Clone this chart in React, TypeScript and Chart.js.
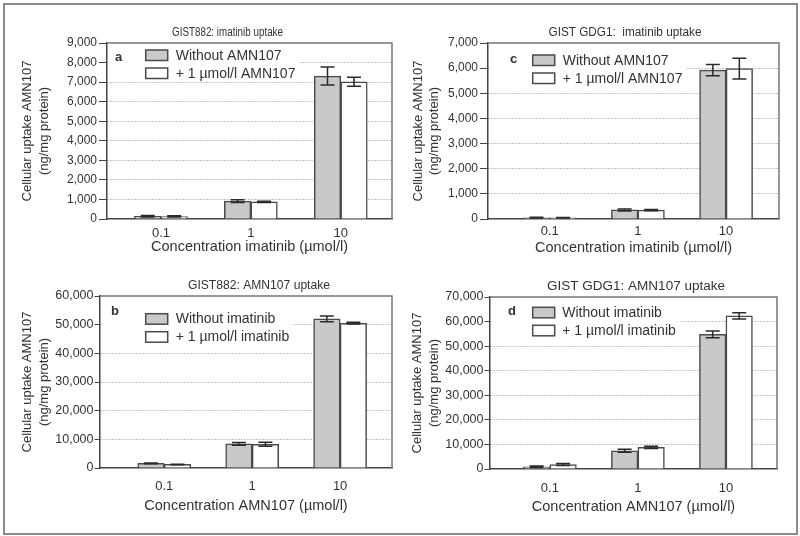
import React, { useEffect, useRef } from "react";
import { Chart, registerables } from "chart.js";

Chart.register(...registerables);

const FONT = '"Liberation Sans", Arial, Helvetica, sans-serif';
const TEXT = "#333333";

// ---------- data ----------
const categories = ["0.1", "1", "10"];

// Panel a: GIST882 imatinib uptake
const aWithout = [140, 910, 7310];
const aWithoutErr = [40, 70, 460];
const aWith = [130, 880, 7020];
const aWithErr = [30, 30, 230];

// Panel c: GIST GDG1 imatinib uptake
const cWithout = [50, 360, 5920];
const cWithoutErr = [15, 40, 220];
const cWith = [45, 350, 5980];
const cWithErr = [10, 25, 410];

// Panel b: GIST882 AMN107 uptake
const bWithout = [1590, 8400, 52000];
const bWithoutErr = [150, 500, 1000];
const bWith = [1240, 8300, 50500];
const bWithErr = [100, 700, 300];

// Panel d: GIST GDG1 AMN107 uptake
const dWithout = [900, 7400, 54800];
const dWithoutErr = [300, 600, 1400];
const dWith = [1800, 8800, 62300];
const dWithErr = [400, 500, 1300];

const legendAmn = ["Without AMN107", "+ 1 \u00b5mol/l AMN107"];
const legendIma = ["Without imatinib", "+ 1 \u00b5mol/l imatinib"];
const yTitle = ["Cellular uptake AMN107", "(ng/mg protein)"];

type Panel = {
  key: string;
  title: string;
  titleWidth: number;
  titleX: number;
  titleY: number;
  letter: string;
  legend: string[];
  xTitle: string;
  without: number[];
  withoutErr: number[];
  withV: number[];
  withErr: number[];
  yMax: number;
  yStep: number;
  left: number;
  top: number;
  yWidth: number;
  padRight: number;
  padTop: number;
  xHeight: number;
  xMin: number;
  xMax: number;
  yTitlePad: number;
  xTitlePad: number;
  xTickPad: number;
  yTickSize: number;
  yTickLen: number;
  yTickPad: number;
  letterX: number;
  letterY: number;
  swX: number;
  swY: number;
  txtX: number;
};

const panels: Panel[] = [
  {
    key: "a", title: "GIST882: imatinib uptake", titleWidth: 111, titleX: 227.5, titleY: 32.7,
    letter: "a", legend: legendAmn, xTitle: "Concentration imatinib (\u00b5mol/l)",
    without: aWithout, withoutErr: aWithoutErr, withV: aWith, withErr: aWithErr,
    yMax: 9000, yStep: 1000, left: 0, top: 0,
    yWidth: 107, padRight: 8, padTop: 43, xHeight: 49, xMin: -0.6, xMax: 2.57,
    yTitlePad: 19.3, xTitlePad: 12.6, xTickPad: 6.5, yTickSize: 12, yTickLen: 8, yTickPad: 2,
    letterX: 8, letterY: 14, swX: 38.7, swY: 7, txtX: 68.7,
  },
  {
    key: "c", title: "GIST GDG1:  imatinib uptake", titleWidth: 153, titleX: 225, titleY: 32.7,
    letter: "c", legend: legendAmn, xTitle: "Concentration imatinib (\u00b5mol/l)",
    without: cWithout, withoutErr: cWithoutErr, withV: cWith, withErr: cWithErr,
    yMax: 7000, yStep: 1000, left: 400, top: 0,
    yWidth: 88, padRight: 21, padTop: 43, xHeight: 49, xMin: -0.7, xMax: 2.6,
    yTitlePad: 9.6, xTitlePad: 11, xTickPad: 4.9, yTickSize: 12, yTickLen: 8, yTickPad: 2,
    letterX: 22, letterY: 16.3, swX: 44.7, swY: 12, txtX: 74.7,
  },
  {
    key: "b", title: "GIST882: AMN107 uptake", titleWidth: 142, titleX: 259, titleY: 17.3,
    letter: "b", legend: legendIma, xTitle: "Concentration AMN107 (\u00b5mol/l)",
    without: bWithout, withoutErr: bWithoutErr, withV: bWith, withErr: bWithErr,
    yMax: 60000, yStep: 10000, left: 0, top: 268,
    yWidth: 100, padRight: 8, padTop: 28, xHeight: 68, xMin: -0.73, xMax: 2.59,
    yTitlePad: 18.9, xTitlePad: 21, xTickPad: 10.5, yTickSize: 12.5, yTickLen: 5.5, yTickPad: 1,
    letterX: 11, letterY: 15.3, swX: 45.7, swY: 17.7, txtX: 75.7,
  },
  {
    key: "d", title: "GIST GDG1: AMN107 uptake", titleWidth: 178, titleX: 236, titleY: 18.3,
    letter: "d", legend: legendIma, xTitle: "Concentration AMN107 (\u00b5mol/l)",
    without: dWithout, withoutErr: dWithoutErr, withV: dWith, withErr: dWithErr,
    yMax: 70000, yStep: 10000, left: 400, top: 268,
    yWidth: 90, padRight: 23, padTop: 29, xHeight: 67, xMin: -0.68, xMax: 2.58,
    yTitlePad: 9.3, xTitlePad: 20.3, xTickPad: 11.2, yTickSize: 12.5, yTickLen: 5.5, yTickPad: 1,
    letterX: 18, letterY: 14.3, swX: 42.7, swY: 10.3, txtX: 72.3,
  },
];

const GREY = "#c9c9c9";
const WHITE = "#ffffff";
const EDGE = "#4a4a4a";
const AXIS = "#444444";
const FRAME = "#777777";

function PanelChart({ p }: { p: Panel }) {
  const ref = useRef<HTMLCanvasElement | null>(null);

  useEffect(() => {
    if (!ref.current) return;
    const errs = [p.withoutErr, p.withErr];
    const fills = [GREY, WHITE];

    const panelPlugin = {
      id: "panelDeco_" + p.key,
      beforeDatasetsDraw(chart: any) {
        const { ctx, chartArea: ca } = chart;
        ctx.save();
        // frame top & right
        ctx.strokeStyle = FRAME;
        ctx.lineWidth = 1.5;
        ctx.beginPath();
        ctx.moveTo(ca.left, ca.top);
        ctx.lineTo(ca.right, ca.top);
        ctx.lineTo(ca.right, ca.bottom);
        ctx.stroke();
        // legend background
        ctx.font = `14px ${FONT}`;
        const tw = Math.max(...p.legend.map((l) => ctx.measureText(l).width));
        const swW = 22;
        const swH = 10.5;
        const gap = 18;
        const bx = ca.left + 1.5;
        const by = ca.top + 1.5;
        const bw = ca.left + p.txtX + tw + 4 - bx;
        const bh = ca.top + p.swY + gap + swH + 2 - by;
        ctx.fillStyle = "#ffffff";
        ctx.fillRect(bx, by, bw, bh);
        // letter
        ctx.fillStyle = TEXT;
        ctx.textAlign = "left";
        ctx.textBaseline = "middle";
        ctx.font = `bold 13px ${FONT}`;
        ctx.fillText(p.letter, ca.left + p.letterX, ca.top + p.letterY);
        // entries
        ctx.font = `14px ${FONT}`;
        p.legend.forEach((label, i) => {
          const y = ca.top + p.swY + i * gap;
          ctx.fillStyle = fills[i];
          ctx.fillRect(ca.left + p.swX, y, swW, swH);
          ctx.strokeStyle = EDGE;
          ctx.lineWidth = 1.5;
          ctx.strokeRect(ca.left + p.swX, y, swW, swH);
          ctx.fillStyle = TEXT;
          ctx.fillText(label, ca.left + p.txtX, y + swH / 2 + 0.5);
        });
        ctx.restore();
      },
      afterDatasetsDraw(chart: any) {
        const { ctx } = chart;
        const yScale = chart.scales.y;
        ctx.save();
        ctx.strokeStyle = "#2a2a2a";
        ctx.lineWidth = 1.5;
        chart.data.datasets.forEach((ds: any, di: number) => {
          const meta = chart.getDatasetMeta(di);
          meta.data.forEach((el: any, i: number) => {
            const v = ds.data[i].y;
            const e = errs[di][i];
            const yt = yScale.getPixelForValue(v + e);
            const yb = yScale.getPixelForValue(Math.max(0, v - e));
            const x = el.x;
            const hw = 7;
            ctx.beginPath();
            ctx.moveTo(x, yt);
            ctx.lineTo(x, yb);
            ctx.moveTo(x - hw, yt);
            ctx.lineTo(x + hw, yt);
            ctx.moveTo(x - hw, yb);
            ctx.lineTo(x + hw, yb);
            ctx.stroke();
          });
        });
        ctx.restore();
      },
      afterDraw(chart: any) {
        const { ctx } = chart;
        ctx.save();
        ctx.fillStyle = TEXT;
        ctx.font = `12.5px ${FONT}`;
        ctx.textAlign = "center";
        ctx.textBaseline = "middle";
        const natural = ctx.measureText(p.title).width;
        const sx = p.titleWidth / natural;
        ctx.translate(p.titleX, p.titleY);
        ctx.scale(sx, 1);
        ctx.fillText(p.title, 0, 0);
        ctx.restore();
      },
    };

    const chart = new Chart(ref.current, {
      type: "bar",
      data: {
        datasets: [
          {
            label: p.legend[0],
            data: p.without.map((v, i) => ({ x: i, y: v })),
            backgroundColor: GREY,
            borderColor: EDGE,
            borderWidth: 1.5,
            barThickness: 26.5,
          },
          {
            label: p.legend[1],
            data: p.withV.map((v, i) => ({ x: i, y: v })),
            backgroundColor: WHITE,
            borderColor: EDGE,
            borderWidth: 1.5,
            barThickness: 26.5,
          },
        ],
      },
      options: {
        animation: false,
        responsive: false,
        devicePixelRatio: 1,
        layout: { padding: { left: 0, right: p.padRight, top: p.padTop, bottom: 0 } },
        plugins: {
          legend: { display: false },
          title: { display: false },
          tooltip: { enabled: false },
        },
        scales: {
          x: {
            type: "linear",
            min: p.xMin,
            max: p.xMax,
            offset: false,
            afterBuildTicks: (s: any) => {
              s.ticks = categories.map((_, i) => ({ value: i }));
            },
            afterFit: (s: any) => {
              s.height = p.xHeight;
            },
            ticks: {
              autoSkip: false,
              maxRotation: 0,
              padding: p.xTickPad,
              color: TEXT,
              font: { family: FONT, size: 13 },
              callback: (v: any) => categories[v as number] ?? "",
            },
            grid: { display: false, drawTicks: false },
            border: { display: true, color: AXIS, width: 1.5 },
            title: {
              display: true,
              text: p.xTitle,
              color: TEXT,
              font: { family: FONT, size: 14.5 },
              padding: { top: 0, bottom: p.xTitlePad },
            },
          },
          y: {
            type: "linear",
            min: 0,
            max: p.yMax,
            afterFit: (s: any) => {
              s.width = p.yWidth;
            },
            ticks: {
              stepSize: p.yStep,
              padding: p.yTickPad,
              color: TEXT,
              font: { family: FONT, size: p.yTickSize },
              callback: (v: any) => Number(v).toLocaleString("en-US"),
            },
            grid: {
              color: (c: any) =>
                c.tick && (c.tick.value === 0 || c.tick.value === p.yMax) ? "rgba(0,0,0,0)" : "#8c8c8c",
              lineWidth: 1,
              drawTicks: true,
              tickLength: p.yTickLen,
              tickColor: AXIS,
              tickWidth: 1,
              tickBorderDash: [],
            },
            border: { display: true, color: AXIS, width: 1.5, dash: [1, 2] },
            title: {
              display: true,
              text: yTitle,
              color: TEXT,
              font: { family: FONT, size: 13, lineHeight: "16.7px" },
              padding: { top: p.yTitlePad, bottom: 0 },
            },
          },
        },
      },
      plugins: [panelPlugin],
    } as any);

    return () => chart.destroy();
  }, [p]);

  return (
    <canvas
      ref={ref}
      width={400}
      height={268}
      style={{ position: "absolute", left: p.left, top: p.top, width: 400, height: 268 }}
    />
  );
}

export default function App() {
  return (
    <div
      style={{
        position: "fixed",
        left: 0,
        top: 0,
        width: 800,
        height: 536,
        background: "#ffffff",
        overflow: "hidden",
      }}
    >
      {panels.map((p) => (
        <PanelChart key={p.key} p={p} />
      ))}
      <div
        style={{
          position: "absolute",
          left: 3,
          top: 3,
          width: 791,
          height: 528,
          border: "2px solid #8a8a8a",
          pointerEvents: "none",
        }}
      />
    </div>
  );
}
